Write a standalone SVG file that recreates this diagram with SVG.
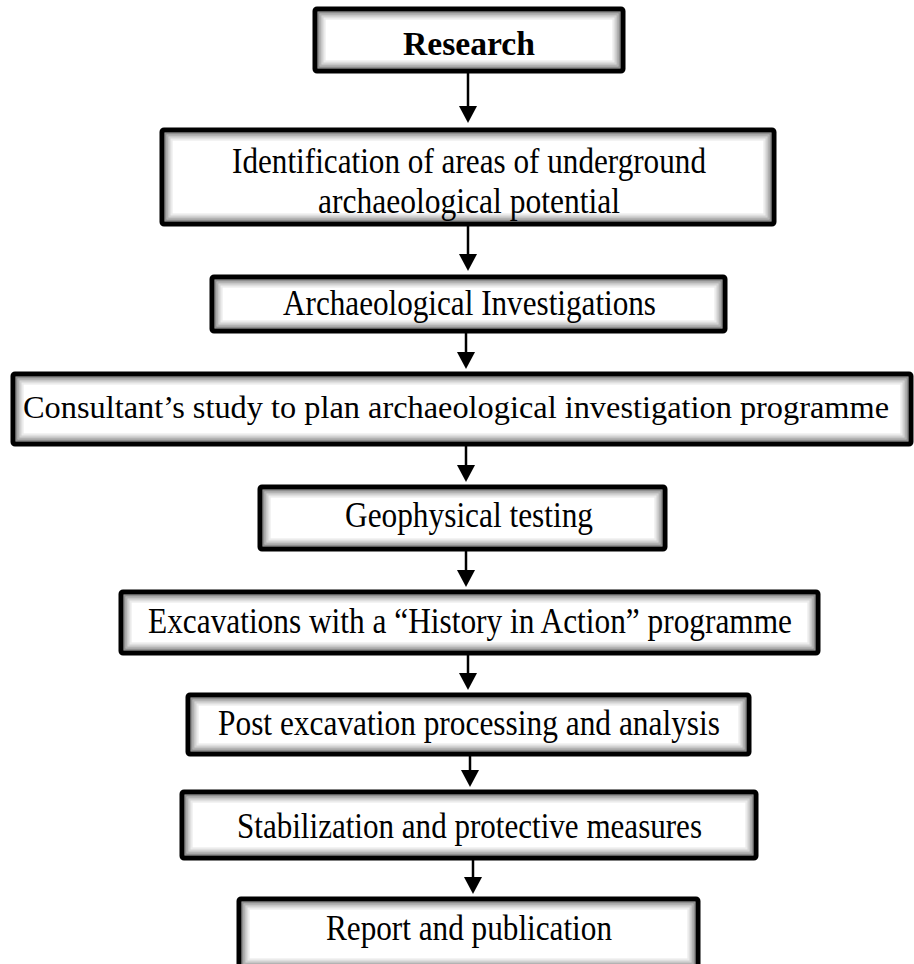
<svg xmlns="http://www.w3.org/2000/svg" width="914" height="964" viewBox="0 0 914 964">
<style>
.bg{fill:#fff}
.bd{fill:none;stroke:#000;stroke-width:5}
.s1,.s2,.s3,.s4{fill:none;stroke-width:2.2}
.s1{stroke:#8e8e8e}
.s2{stroke:#b3b3b3}
.s3{stroke:#d2d2d2}
.s4{stroke:#ebebeb}
.t{font-family:"Liberation Serif","Times New Roman",serif;font-size:35px;fill:#000;text-anchor:middle}
.b{font-weight:bold;font-size:33px}
.w{font-size:32px}
.ln{stroke:#000;stroke-width:2.5;fill:none}
</style>
<rect width="914" height="964" fill="#fff"/>
<g id="connectors">
<path class="ln" d="M468,73 V110"/>
<polygon points="459,106 477,106 468,123" fill="#000"/>
<path class="ln" d="M468,226 V258"/>
<polygon points="459,254 477,254 468,271" fill="#000"/>
<path class="ln" d="M466,333 V356"/>
<polygon points="457,352 475,352 466,369" fill="#000"/>
<path class="ln" d="M466,446 V469"/>
<polygon points="457,465 475,465 466,482" fill="#000"/>
<path class="ln" d="M466,551 V574"/>
<polygon points="457,570 475,570 466,587" fill="#000"/>
<path class="ln" d="M468,655 V677"/>
<polygon points="459,673 477,673 468,690" fill="#000"/>
<path class="ln" d="M470,756 V774"/>
<polygon points="461,770 479,770 470,787" fill="#000"/>
<path class="ln" d="M473,860 V881"/>
<polygon points="464,877 482,877 473,894" fill="#000"/>
</g>
<g id="n1">
<rect class="bg" x="315" y="9" width="308" height="62"/>
<rect class="s4" x="324.5" y="18.5" width="289" height="43"/>
<rect class="s3" x="322.5" y="16.5" width="293" height="47"/>
<rect class="s2" x="320.5" y="14.5" width="297" height="51"/>
<rect class="s1" x="318.5" y="12.5" width="301" height="55"/>
<rect class="bd" x="315" y="9" width="308" height="62" rx="2"/>
<text class="t b" x="469" y="55" textLength="132" lengthAdjust="spacingAndGlyphs">Research</text>
</g>
<g id="n2">
<rect class="bg" x="162" y="130" width="612" height="94"/>
<rect class="s4" x="171.5" y="139.5" width="593" height="75"/>
<rect class="s3" x="169.5" y="137.5" width="597" height="79"/>
<rect class="s2" x="167.5" y="135.5" width="601" height="83"/>
<rect class="s1" x="165.5" y="133.5" width="605" height="87"/>
<rect class="bd" x="162" y="130" width="612" height="94" rx="2"/>
<text class="t" x="469" y="173" textLength="474" lengthAdjust="spacingAndGlyphs">Identification of areas of underground</text>
<text class="t" x="469" y="213" textLength="302" lengthAdjust="spacingAndGlyphs">archaeological potential</text>
</g>
<g id="n3">
<rect class="bg" x="212" y="277" width="513" height="54"/>
<rect class="s4" x="221.5" y="286.5" width="494" height="35"/>
<rect class="s3" x="219.5" y="284.5" width="498" height="39"/>
<rect class="s2" x="217.5" y="282.5" width="502" height="43"/>
<rect class="s1" x="215.5" y="280.5" width="506" height="47"/>
<rect class="bd" x="212" y="277" width="513" height="54" rx="2"/>
<text class="t" x="469.5" y="315" textLength="373" lengthAdjust="spacingAndGlyphs">Archaeological Investigations</text>
</g>
<g id="n4">
<rect class="bg" x="13" y="374" width="898" height="70"/>
<rect class="s4" x="22.5" y="383.5" width="879" height="51"/>
<rect class="s3" x="20.5" y="381.5" width="883" height="55"/>
<rect class="s2" x="18.5" y="379.5" width="887" height="59"/>
<rect class="s1" x="16.5" y="377.5" width="891" height="63"/>
<rect class="bd" x="13" y="374" width="898" height="70" rx="2"/>
<text class="t w" x="456" y="418" textLength="866" lengthAdjust="spacingAndGlyphs">Consultant’s study to plan archaeological investigation programme</text>
</g>
<g id="n5">
<rect class="bg" x="260" y="487" width="405" height="62"/>
<rect class="s4" x="269.5" y="496.5" width="386" height="43"/>
<rect class="s3" x="267.5" y="494.5" width="390" height="47"/>
<rect class="s2" x="265.5" y="492.5" width="394" height="51"/>
<rect class="s1" x="263.5" y="490.5" width="398" height="55"/>
<rect class="bd" x="260" y="487" width="405" height="62" rx="2"/>
<text class="t" x="469" y="527" textLength="248" lengthAdjust="spacingAndGlyphs">Geophysical testing</text>
</g>
<g id="n6">
<rect class="bg" x="121" y="592" width="697" height="61"/>
<rect class="s4" x="130.5" y="601.5" width="678" height="42"/>
<rect class="s3" x="128.5" y="599.5" width="682" height="46"/>
<rect class="s2" x="126.5" y="597.5" width="686" height="50"/>
<rect class="s1" x="124.5" y="595.5" width="690" height="54"/>
<rect class="bd" x="121" y="592" width="697" height="61" rx="2"/>
<text class="t" x="470" y="633" textLength="644" lengthAdjust="spacingAndGlyphs">Excavations with a “History in Action” programme</text>
</g>
<g id="n7">
<rect class="bg" x="188" y="695" width="561" height="59"/>
<rect class="s4" x="197.5" y="704.5" width="542" height="40"/>
<rect class="s3" x="195.5" y="702.5" width="546" height="44"/>
<rect class="s2" x="193.5" y="700.5" width="550" height="48"/>
<rect class="s1" x="191.5" y="698.5" width="554" height="52"/>
<rect class="bd" x="188" y="695" width="561" height="59" rx="2"/>
<text class="t" x="469" y="735" textLength="502" lengthAdjust="spacingAndGlyphs">Post excavation processing and analysis</text>
</g>
<g id="n8">
<rect class="bg" x="182" y="792" width="574" height="66"/>
<rect class="s4" x="191.5" y="801.5" width="555" height="47"/>
<rect class="s3" x="189.5" y="799.5" width="559" height="51"/>
<rect class="s2" x="187.5" y="797.5" width="563" height="55"/>
<rect class="s1" x="185.5" y="795.5" width="567" height="59"/>
<rect class="bd" x="182" y="792" width="574" height="66" rx="2"/>
<text class="t" x="469.5" y="838" textLength="465" lengthAdjust="spacingAndGlyphs">Stabilization and protective measures</text>
</g>
<g id="n9">
<rect class="bg" x="239" y="899" width="459" height="70"/>
<rect class="s4" x="248.5" y="908.5" width="440" height="51"/>
<rect class="s3" x="246.5" y="906.5" width="444" height="55"/>
<rect class="s2" x="244.5" y="904.5" width="448" height="59"/>
<rect class="s1" x="242.5" y="902.5" width="452" height="63"/>
<rect class="bd" x="239" y="899" width="459" height="70" rx="2"/>
<text class="t" x="469" y="940" textLength="286" lengthAdjust="spacingAndGlyphs">Report and publication</text>
</g>
</svg>
